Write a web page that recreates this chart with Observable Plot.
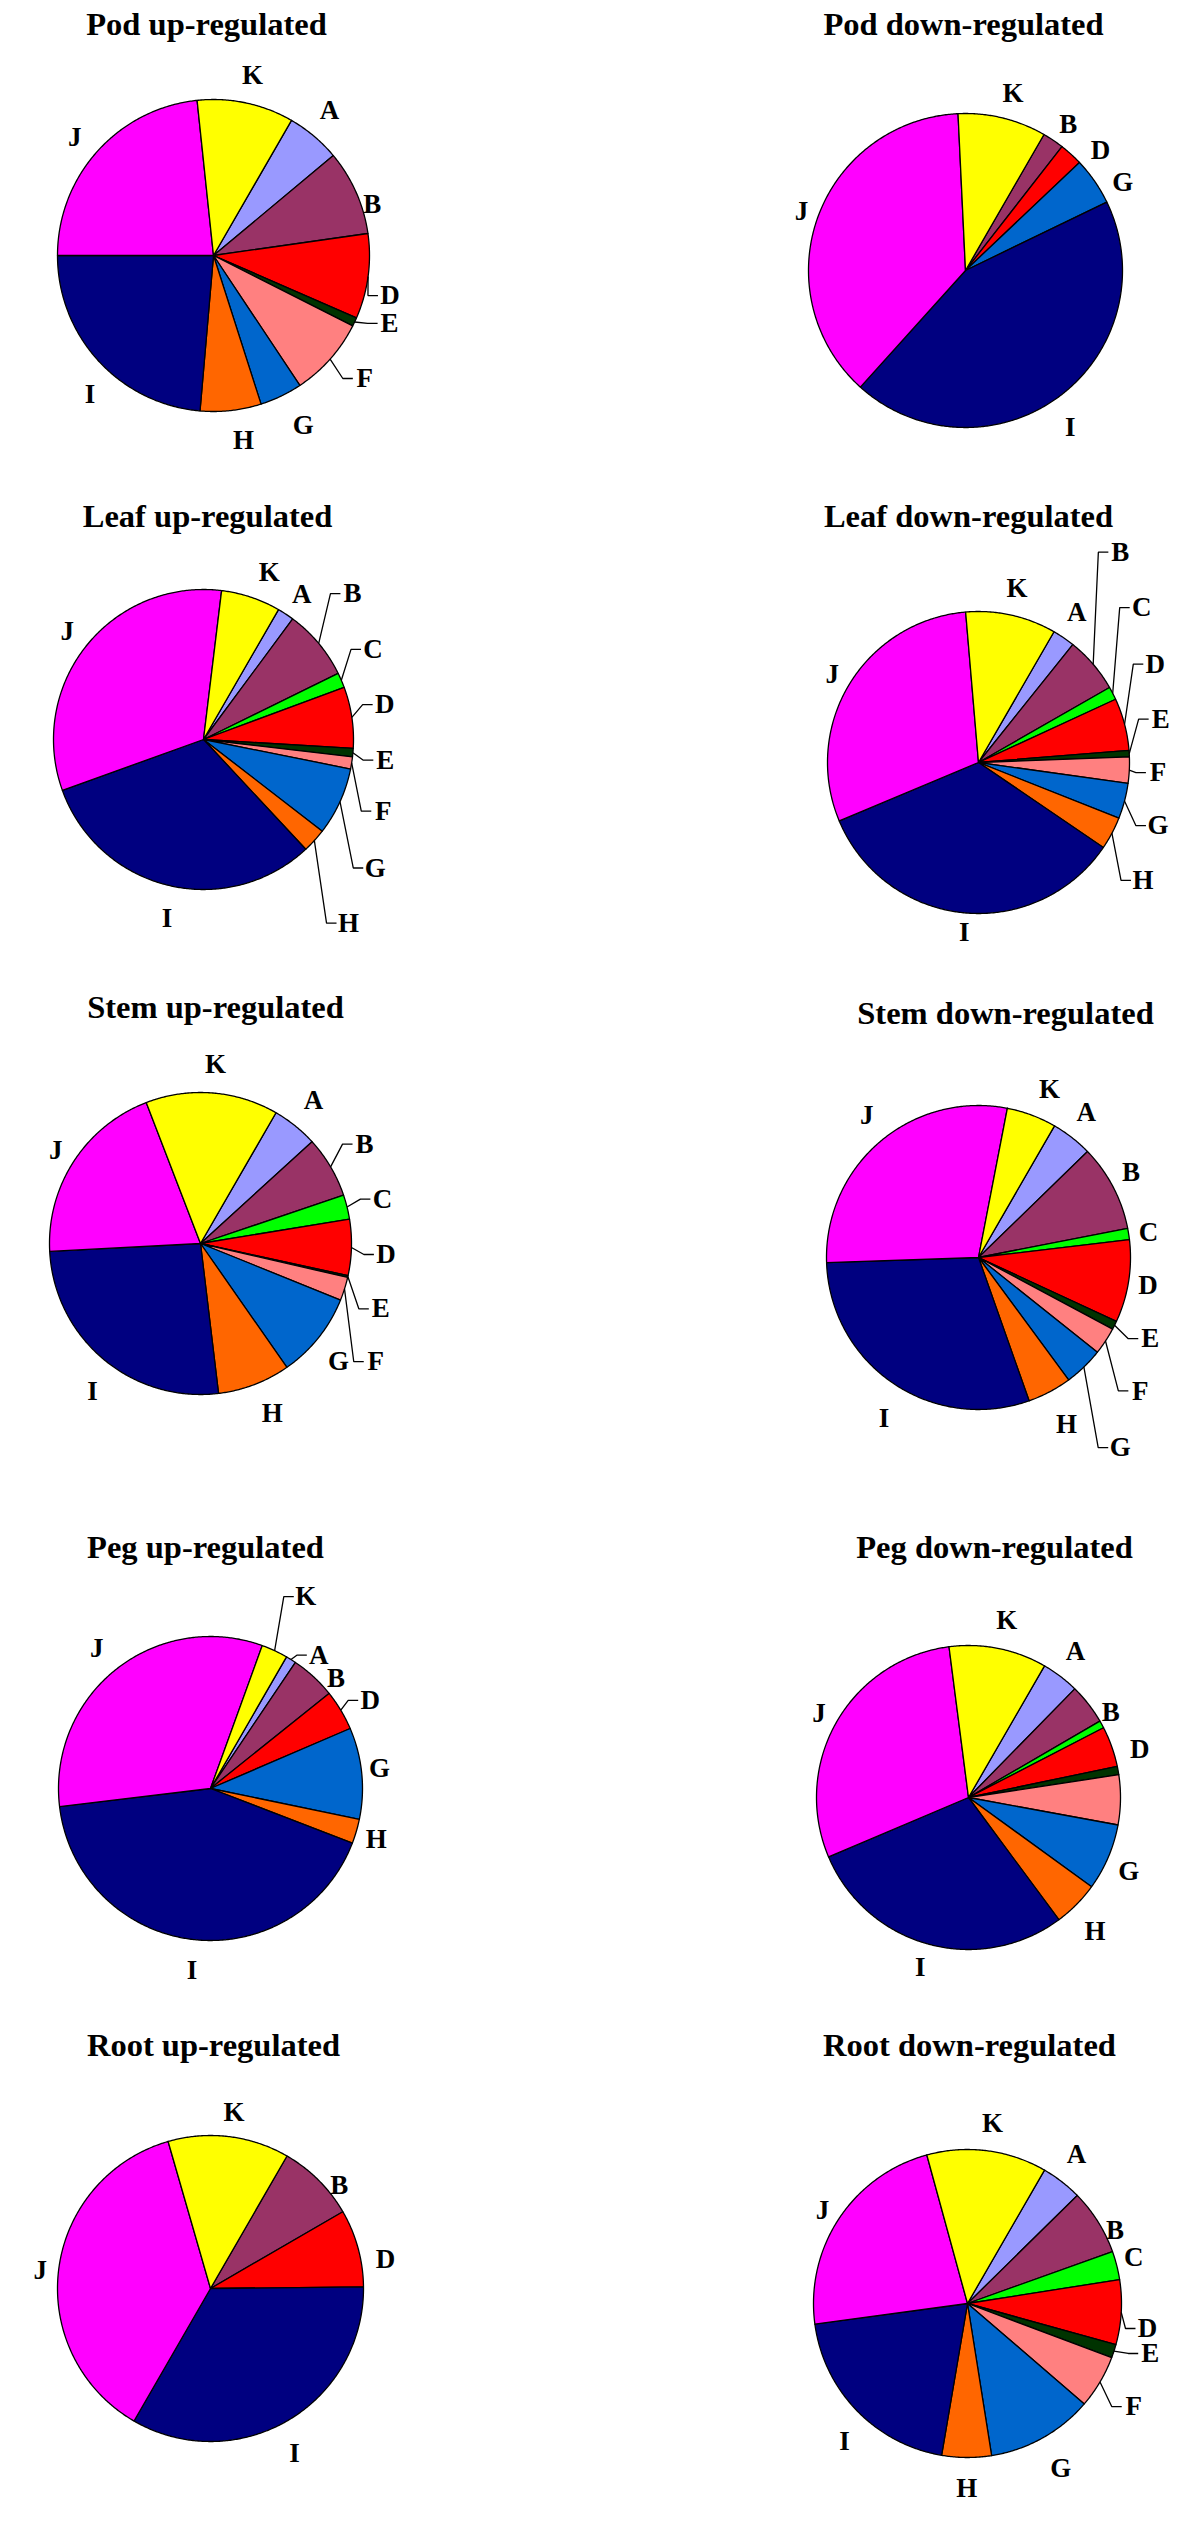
<!DOCTYPE html>
<html><head><meta charset="utf-8">
<script src="https://cdn.jsdelivr.net/npm/d3@7"></script>
<script src="https://cdn.jsdelivr.net/npm/@observablehq/plot@0.6"></script>
<style>
html,body{margin:0;padding:0;background:#fff;}
#chart svg{display:block;}
</style></head>
<body><div id="chart"></div>
<script>
// Categories and their colours
const categories = ["A","B","C","D","E","F","G","H","I","J","K"];
const categoryColors = ["#9999FF","#993366","#00FF00","#FF0000","#003300","#FF8080","#0066CC","#FF6600","#000080","#FF00FF","#FFFF00"];

const chartTitles = [
  "Pod up-regulated","Pod down-regulated",
  "Leaf up-regulated","Leaf down-regulated",
  "Stem up-regulated","Stem down-regulated",
  "Peg up-regulated","Peg down-regulated",
  "Root up-regulated","Root down-regulated"
];

// Share of each category (%), order A..K
const podUp    = [5.6, 8.8, 0,   8.8, 0.9, 8.2, 4.4, 6.3, 23.6, 23.3, 10.0];
const podDown  = [0,   2.2, 0,   2.4, 0,   0,   4.9, 0,   43.9, 37.6, 9.1];
const leafUp   = [1.8, 7.6, 1.6, 6.6, 0.9, 1.3, 7.3, 2.6, 31.4, 32.4, 6.4];
const leafDown = [2.4, 6.0, 1.4, 5.6, 0.7, 2.8, 3.8, 3.5, 34.2, 30.0, 9.7];
const stemUp   = [4.9, 6.6, 2.6, 6.0, 0.2, 2.5, 9.2, 7.8, 26.1, 20.0, 14.2];
const stemDown = [4.4, 9.2, 1.2, 8.8, 0.9, 2.9, 4.2, 4.7, 29.9, 28.6, 5.3];
const pegUp    = [1.1, 4.8, 0,   4.3, 0,   0,   9.7, 2.6, 42.2, 32.4, 2.8];
const pegDown  = [4.0, 4.3, 0.8, 4.3, 0.9, 5.3, 7.1, 4.9, 28.8, 29.4, 10.4];
const rootUp   = [0,   8.3, 0,   8.2, 0,   0,   0,   0,   33.5, 37.2, 12.8];
const rootDown = [4.3, 6.9, 3.0, 6.8, 1.4, 5.6, 11.2, 5.2, 20.2, 22.9, 12.6];

const series = [podUp, podDown, leafUp, leafDown, stemUp, stemDown, pegUp, pegDown, rootUp, rootDown];

// Layout (page pixels): pie centre, radius, title anchor
const layout = [
  {cx: 213, cy: 255,  r: 156, tx: 206,  ty: 34},
  {cx: 965, cy: 270,  r: 157, tx: 963,  ty: 34},
  {cx: 203, cy: 739,  r: 150, tx: 207,  ty: 526},
  {cx: 978, cy: 762,  r: 151, tx: 968,  ty: 526},
  {cx: 200, cy: 1243, r: 151, tx: 215,  ty: 1017},
  {cx: 978, cy: 1257, r: 152, tx: 1005, ty: 1023},
  {cx: 210, cy: 1788, r: 152, tx: 205,  ty: 1557},
  {cx: 968, cy: 1797, r: 152, tx: 994,  ty: 1557},
  {cx: 210, cy: 2288, r: 153, tx: 213,  ty: 2055},
  {cx: 967, cy: 2303, r: 154, tx: 969,  ty: 2055}
];
const startAngle = 30; // first slice (A) starts 30° clockwise from 12 o'clock

// Label placement: [category, angle°, radius factor, leader line?]
const labelPlacement = [
  [["K",12.2,1.18,0],["A",38.7,1.19,0],["B",72.1,1.07,0],["D",102.8,1.16,1],["E",111.1,1.21,1],["F",129.1,1.25,1],["G",152.1,1.23,0],["H",170.8,1.20,0],["I",221.7,1.19,0],["J",310.5,1.17,0]],
  [["K",15,1.17,0],["B",35,1.14,0],["D",48.4,1.15,0],["G",60.6,1.15,0],["I",146.2,1.20,0],["J",289.7,1.11,0]],
  [["K",21.4,1.20,0],["A",34,1.17,0],["B",45.6,1.39,1],["C",62,1.28,1],["D",79.1,1.23,1],["E",96.5,1.22,1],["F",111.7,1.29,1],["G",126.8,1.43,1],["H",141.7,1.56,1],["I",191.5,1.22,0],["J",308.4,1.16,0]],
  [["K",12.5,1.18,0],["A",33.1,1.19,0],["B",34,1.68,1],["C",46.5,1.49,1],["D",60.9,1.34,1],["E",76.6,1.24,1],["F",93.2,1.19,1],["G",109.4,1.26,1],["H",125.6,1.34,1],["I",184.8,1.13,0],["J",301,1.13,0]],
  [["K",4.8,1.19,0],["A",38.2,1.21,0],["B",58.8,1.27,1],["C",76.3,1.24,1],["D",93.4,1.23,1],["E",109.9,1.27,1],["F",124,1.40,1],["G",130.4,1.20,0],["H",157.1,1.22,0],["I",216.2,1.21,0],["J",302.8,1.14,0]],
  [["K",22.9,1.20,0],["A",36.6,1.19,0],["B",60.8,1.15,0],["C",81.6,1.13,0],["D",99.3,1.13,0],["E",115.3,1.25,1],["F",129.5,1.38,1],["G",143.3,1.56,1],["H",152.2,1.24,0],["I",210.4,1.23,0],["J",321.8,1.19,0]],
  [["K",26.4,1.41,1],["A",39.1,1.13,1],["B",48.7,1.10,0],["D",61.1,1.20,1],["G",83.2,1.12,0],["H",106.9,1.14,0],["I",185.8,1.20,0],["J",321,1.19,0]],
  [["K",12.2,1.19,0],["A",36.3,1.19,0],["B",59.2,1.09,0],["D",74.3,1.17,0],["G",114.6,1.16,0],["H",136.5,1.21,0],["I",195.9,1.16,0],["J",299.5,1.13,0]],
  [["K",7.6,1.16,0],["B",51.2,1.08,0],["D",80.5,1.16,0],["I",153,1.21,0],["J",276.2,1.12,0]],
  [["K",7.9,1.18,0],["A",36.1,1.20,0],["B",63.5,1.07,0],["C",74.6,1.12,0],["D",97.9,1.18,1],["E",105.3,1.23,1],["F",121.8,1.27,1],["G",150.5,1.23,0],["H",180.2,1.20,0],["I",221.7,1.20,0],["J",302.8,1.12,0]]
];

function polar(cx, cy, r, deg) {
  const a = deg * Math.PI / 180;
  return [cx + r * Math.sin(a), cy - r * Math.cos(a)];
}

const slices = [], leaders = [], labels = [], titles = [];
series.forEach((vals, i) => {
  const L = layout[i];
  const total = d3.sum(vals);
  let a = startAngle;
  const mids = {};
  vals.forEach((v, j) => {
    if (!(v > 0)) return;
    const span = v / total * 360;
    const a0 = a;
    const key = i + "-" + categories[j];
    const n = Math.max(2, Math.ceil(span / 0.5));
    const pts = [[L.cx, L.cy]];
    for (let k = 0; k <= n; k++) pts.push(polar(L.cx, L.cy, L.r, a0 + span * k / n));
    pts.push([L.cx, L.cy]);
    pts.forEach(([x, y]) => slices.push({key, x, y, color: categoryColors[j]}));
    mids[categories[j]] = a0 + span / 2;
    a += span;
  });
  labelPlacement[i].forEach(([cat, ang, rf, lead]) => {
    const [lx, ly] = polar(L.cx, L.cy, L.r * rf, ang);
    labels.push({x: lx, y: ly, text: cat});
    if (lead && mids[cat] != null) {
      const key = i + "-" + cat;
      const p0 = polar(L.cx, L.cy, L.r, mids[cat]);
      leaders.push({key, x: p0[0], y: p0[1]}, {key, x: lx - 22, y: ly}, {key, x: lx - 12, y: ly});
    }
  });
  titles.push({x: L.tx, y: L.ty, text: chartTitles[i]});
});

const font = "'Liberation Serif', 'Times New Roman', serif";
const chart = Plot.plot({
  width: 1200, height: 2537, margin: 0,
  x: {domain: [0, 1200], range: [0, 1200], axis: null},
  y: {domain: [0, 2537], range: [0, 2537], axis: null},
  color: {type: "identity"},
  style: {background: "white"},
  marks: [
    Plot.line(slices, {x: "x", y: "y", z: "key", fill: "color", stroke: "black", strokeWidth: 1.3, curve: "linear"}),
    Plot.line(leaders, {x: "x", y: "y", z: "key", stroke: "black", strokeWidth: 1.3, curve: "linear", strokeLinecap: "butt", strokeLinejoin: "miter"}),
    Plot.text(labels, {x: "x", y: "y", text: "text", fontSize: 27, fontWeight: "bold", fontFamily: font, fill: "black"}),
    Plot.text(titles, {x: "x", y: "y", text: "text", fontSize: 32.5, fontWeight: "bold", fontFamily: font, fill: "black", lineAnchor: "bottom"})
  ]
});
document.getElementById("chart").appendChild(chart);
</script>
</body></html>
